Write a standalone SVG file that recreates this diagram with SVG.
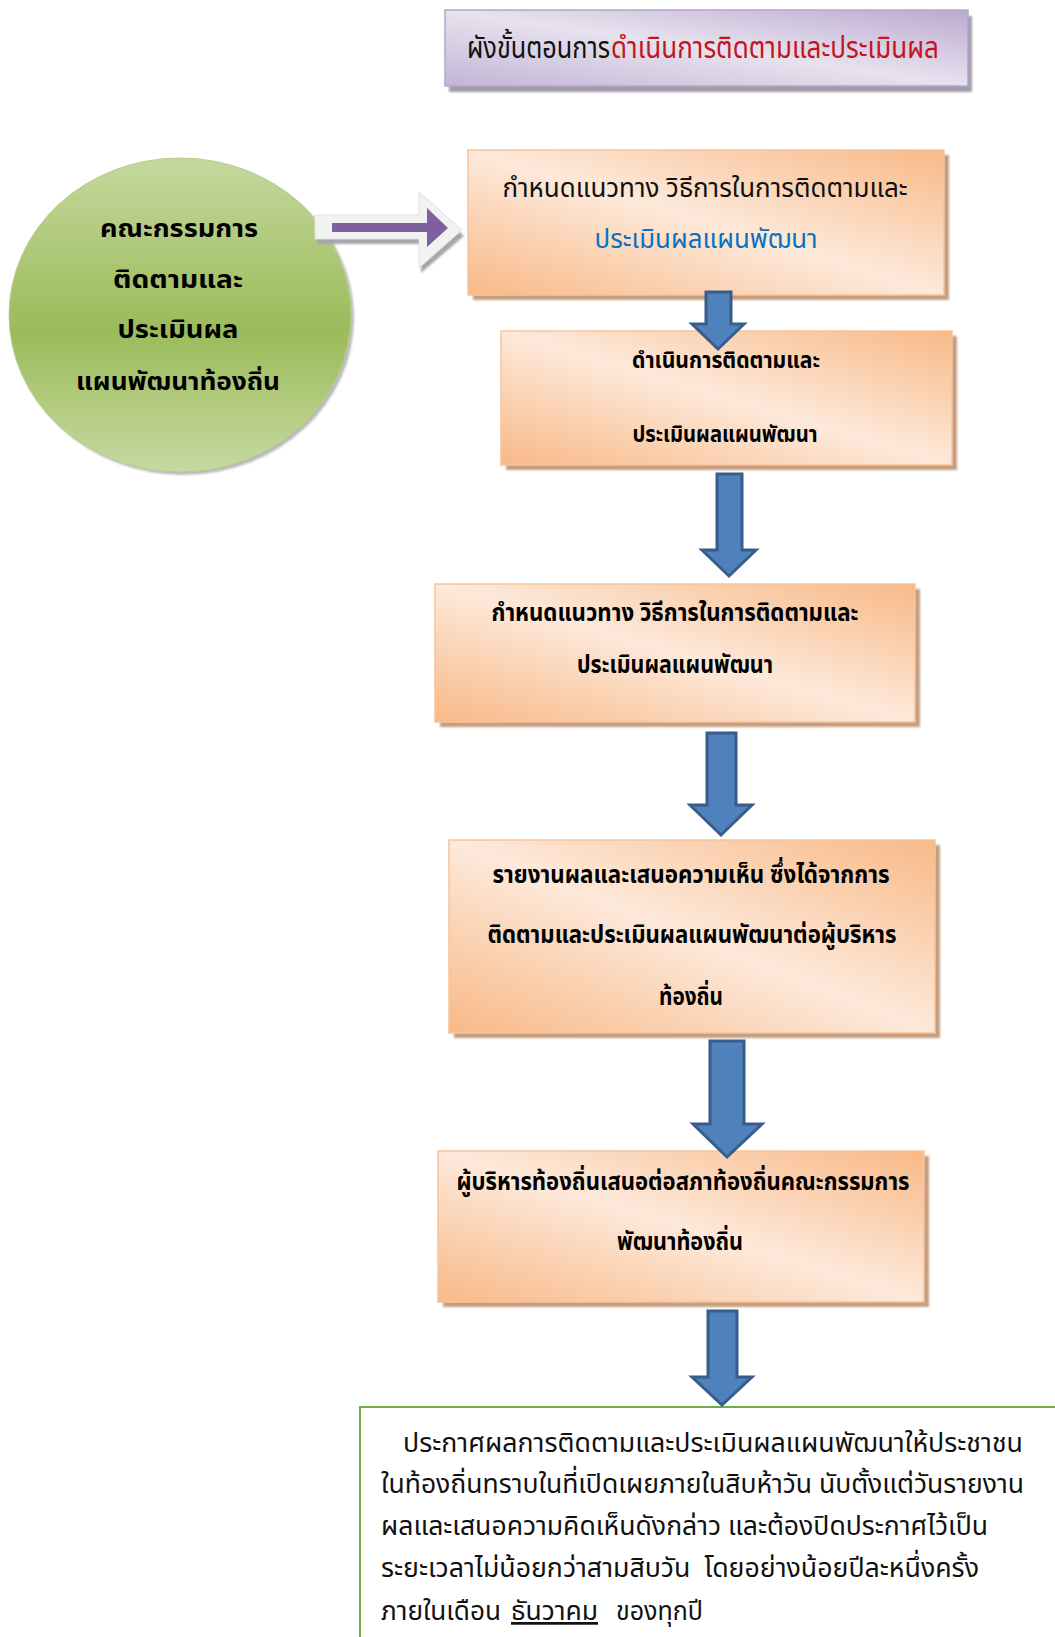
<svg xmlns="http://www.w3.org/2000/svg" width="1055" height="1637" viewBox="0 0 1055 1637">
<defs>
<linearGradient id="gOrange" x1="1" y1="0" x2="0" y2="1">
<stop offset="0" stop-color="#f8b987"/>
<stop offset="0.5" stop-color="#fde9da"/>
<stop offset="1" stop-color="#f8b987"/>
</linearGradient>
<linearGradient id="gLav" x1="1" y1="0" x2="0" y2="1">
<stop offset="0" stop-color="#bba9d0"/>
<stop offset="0.5" stop-color="#e7e2ee"/>
<stop offset="1" stop-color="#c3b5d6"/>
</linearGradient>
<linearGradient id="gGreen" x1="0" y1="0" x2="0" y2="1">
<stop offset="0" stop-color="#c4d89e"/>
<stop offset="0.55" stop-color="#9bbb59"/>
<stop offset="1" stop-color="#c6d9a1"/>
</linearGradient>
<filter id="blur" x="-5%" y="-5%" width="110%" height="110%">
<feGaussianBlur stdDeviation="1.2"/>
</filter>
<style>
.th{font-family:"Noto Sans Thai","Noto Serif Thai","Loma","Garuda","Liberation Sans",sans-serif;}
.b{font-weight:bold;fill:#000;}
.box{fill:url(#gOrange);stroke:#f7c39a;stroke-width:1.5;}
.sh{fill:#c49e80;filter:url(#blur);}
.arr{fill:#4f81bd;stroke:#385d8a;stroke-width:3;stroke-linejoin:miter;}
</style>
</defs>

<g id="title">
<rect x="449" y="16" width="523" height="76" fill="#a29da9" filter="url(#blur)"/>
<rect x="445" y="10" width="523" height="76" fill="url(#gLav)" stroke="#b5a6c9" stroke-width="1.5"/>
<text class="th" x="467" y="58" font-size="31" fill="#111" textLength="143" lengthAdjust="spacingAndGlyphs">ผังขั้นตอนการ</text>
<text class="th" x="611" y="58" font-size="31" fill="#c4141c" textLength="328" lengthAdjust="spacingAndGlyphs">ดำเนินการติดตามและประเมินผล</text>
</g>

<g id="committee">
<ellipse cx="183" cy="318" rx="171" ry="157" fill="#8c8c8c" opacity="0.6" filter="url(#blur)"/>
<ellipse cx="180" cy="315" rx="171" ry="157" fill="url(#gGreen)" stroke="#b8cf8d" stroke-width="1"/>
<text class="th b" x="179" y="237" font-size="24" text-anchor="middle" textLength="158" lengthAdjust="spacingAndGlyphs">คณะกรรมการ</text>
<text class="th b" x="178" y="288" font-size="24" text-anchor="middle" textLength="130" lengthAdjust="spacingAndGlyphs">ติดตามและ</text>
<text class="th b" x="178" y="338" font-size="24" text-anchor="middle" textLength="121" lengthAdjust="spacingAndGlyphs">ประเมินผล</text>
<text class="th b" x="178" y="390" font-size="24" text-anchor="middle" textLength="204" lengthAdjust="spacingAndGlyphs">แผนพัฒนาท้องถิ่น</text>
</g>

<g id="step1">
<rect class="sh" x="473" y="155" width="476" height="145"/>
<rect class="box" x="468" y="150" width="476" height="145"/>
<text class="th" x="705" y="197" font-size="27" fill="#111" text-anchor="middle" textLength="405" lengthAdjust="spacingAndGlyphs">กำหนดแนวทาง วิธีการในการติดตามและ</text>
<text class="th" x="706" y="248" font-size="27" fill="#0b70c0" text-anchor="middle" textLength="223" lengthAdjust="spacingAndGlyphs">ประเมินผลแผนพัฒนา</text>
</g>

<g id="step2">
<rect class="sh" x="506" y="336" width="451" height="134"/>
<rect class="box" x="501" y="331" width="451" height="134"/>
<text class="th b" x="726" y="368" font-size="23" text-anchor="middle" textLength="188" lengthAdjust="spacingAndGlyphs">ดำเนินการติดตามและ</text>
<text class="th b" x="725" y="442" font-size="23" text-anchor="middle" textLength="185" lengthAdjust="spacingAndGlyphs">ประเมินผลแผนพัฒนา</text>
</g>

<g id="step3">
<rect class="sh" x="440" y="589" width="480" height="138"/>
<rect class="box" x="435" y="584" width="480" height="138"/>
<text class="th b" x="675" y="621" font-size="24" text-anchor="middle" textLength="367" lengthAdjust="spacingAndGlyphs">กำหนดแนวทาง วิธีการในการติดตามและ</text>
<text class="th b" x="675" y="673" font-size="24" text-anchor="middle" textLength="196" lengthAdjust="spacingAndGlyphs">ประเมินผลแผนพัฒนา</text>
</g>

<g id="step4">
<rect class="sh" x="454" y="845" width="486" height="193"/>
<rect class="box" x="449" y="840" width="486" height="193"/>
<text class="th b" x="691" y="883" font-size="25" text-anchor="middle" textLength="397" lengthAdjust="spacingAndGlyphs">รายงานผลและเสนอความเห็น ซึ่งได้จากการ</text>
<text class="th b" x="692" y="943" font-size="25" text-anchor="middle" textLength="409" lengthAdjust="spacingAndGlyphs">ติดตามและประเมินผลแผนพัฒนาต่อผู้บริหาร</text>
<text class="th b" x="691" y="1005" font-size="25" text-anchor="middle" textLength="64" lengthAdjust="spacingAndGlyphs">ท้องถิ่น</text>
</g>

<g id="step5">
<rect class="sh" x="443" y="1156" width="486" height="151"/>
<rect class="box" x="438" y="1151" width="486" height="151"/>
<text class="th b" x="683" y="1190" font-size="25" text-anchor="middle" textLength="453" lengthAdjust="spacingAndGlyphs">ผู้บริหารท้องถิ่นเสนอต่อสภาท้องถิ่นคณะกรรมการ</text>
<text class="th b" x="680" y="1250" font-size="25" text-anchor="middle" textLength="126" lengthAdjust="spacingAndGlyphs">พัฒนาท้องถิ่น</text>
</g>

<g id="announce">
<rect x="360" y="1407" width="720" height="260" fill="#ffffff" stroke="#70ad47" stroke-width="2"/>
<g class="th" font-size="27" fill="#111">
<text x="403" y="1452" textLength="620" lengthAdjust="spacingAndGlyphs">ประกาศผลการติดตามและประเมินผลแผนพัฒนาให้ประชาชน</text>
<text x="381" y="1493" textLength="643" lengthAdjust="spacingAndGlyphs">ในท้องถิ่นทราบในที่เปิดเผยภายในสิบห้าวัน นับตั้งแต่วันรายงาน</text>
<text x="381" y="1535" textLength="607" lengthAdjust="spacingAndGlyphs">ผลและเสนอความคิดเห็นดังกล่าว และต้องปิดประกาศไว้เป็น</text>
<text x="381" y="1577" textLength="598" lengthAdjust="spacingAndGlyphs" xml:space="preserve">ระยะเวลาไม่น้อยกว่าสามสิบวัน  โดยอย่างน้อยปีละหนึ่งครั้ง</text>
<text x="381" y="1620" textLength="120" lengthAdjust="spacingAndGlyphs">ภายในเดือน</text>
<text x="511" y="1620" textLength="87" lengthAdjust="spacingAndGlyphs" text-decoration="underline">ธันวาคม</text>
<text x="616" y="1620" textLength="87" lengthAdjust="spacingAndGlyphs">ของทุกปี</text>
</g>
</g>

<g id="connectors">
<g id="purple-arrow">
<polygon points="317,220 421,220 421,197 464,236 421,273 421,244 317,244" fill="#a6a6a6" filter="url(#blur)"/>
<polygon points="315,215 419,215 419,192 462,230 419,268 419,239 315,239" fill="#f2f2f2" stroke="#e0e0e0" stroke-width="1"/>
<polygon points="332,223 427,223 427,208 448,228 427,247 427,232 332,232" fill="#7e60a0"/>
</g>
<polygon class="arr" points="706,292 731,292 731,324 744,324 718,349 692,324 706,324"/>
<polygon class="arr" points="717,474 742,474 742,550 756,550 729,576 702,550 717,550"/>
<polygon class="arr" points="707,733 736,733 736,805 752,805 721,835 690,805 707,805"/>
<polygon class="arr" points="710,1041 744,1041 744,1124 762,1124 727,1157 693,1124 710,1124"/>
<polygon class="arr" points="708,1311 737,1311 737,1377 752,1377 722,1405 692,1377 708,1377"/>
</g>
</svg>
